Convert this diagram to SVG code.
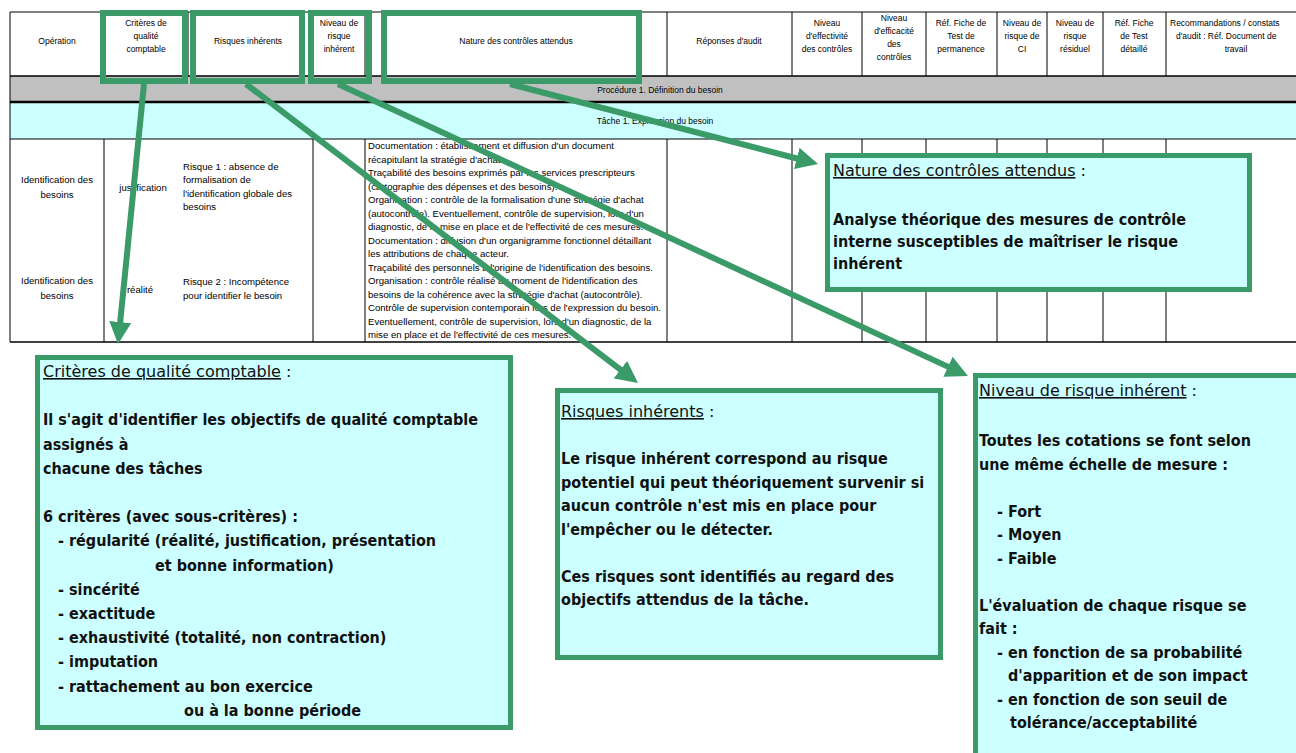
<svg xmlns="http://www.w3.org/2000/svg" width="1296" height="753" viewBox="0 0 1296 753">
<style>
.t{font-family:"Liberation Sans",Arial,sans-serif;font-size:8.5px;fill:#000}
.m{text-anchor:middle}
.b9{font-family:"Liberation Sans",Arial,sans-serif;font-size:9.6px;fill:#000}
.nc{font-family:"Liberation Sans",Arial,sans-serif;font-size:9.6px;fill:#000}
.cb{font-family:"DejaVu Sans Condensed","DejaVu Sans",sans-serif;font-size:16px;font-weight:bold;fill:#111}
.ct{font-family:"DejaVu Sans",sans-serif;font-size:16px;fill:#111}
.box{fill:#ccffff;stroke:#3a9a68;stroke-width:5}
.hb{fill:none;stroke:#3a9a68;stroke-width:6}
.ln{stroke:#000;stroke-width:1;fill:none}
.conn{stroke:#3a9a68;stroke-width:6;fill:none;marker-end:url(#ah)}
</style>
<defs>
<marker id="ah" markerUnits="userSpaceOnUse" markerWidth="22" markerHeight="22" refX="14" refY="11" orient="auto" viewBox="0 0 22 22">
<path d="M0,0 L22,11 L0,22 z" fill="#3a9a68"/>
</marker>
</defs>
<rect width="1296" height="753" fill="#fff"/>

<g id="table">
<rect x="10" y="76" width="1290" height="26" fill="#c0c0c0"/>
<rect x="10" y="102" width="1290" height="37" fill="#ccffff"/>
<g class="ln">
<line x1="10" y1="12" x2="1296" y2="12"/>
<line x1="10" y1="76" x2="1296" y2="76" stroke-width="1.5"/>
<line x1="10" y1="102" x2="1296" y2="102" stroke-width="2.5"/>
<line x1="10" y1="139" x2="1296" y2="139"/>
<line x1="10" y1="342" x2="1296" y2="342" stroke-width="1.5"/>
<line x1="10" y1="12" x2="10" y2="342"/>
<path d="M104,12V76 M188,12V76 M313,12V76 M365,12V76 M667,12V76 M792,12V76 M862,12V76 M926,12V76 M997,12V76 M1047,12V76 M1103,12V76 M1166,12V76"/>
<path d="M104,139V342 M313,139V342 M365,139V342 M667,139V342 M792,139V342 M862,139V342 M926,139V342 M997,139V342 M1047,139V342 M1103,139V342 M1166,139V342"/>
</g>
<g class="t m">
<text x="57" y="44">Opération</text>
<text x="146" y="26">Critères de</text><text x="146" y="39">qualité</text><text x="146" y="52">comptable</text>
<text x="248" y="44">Risques inhérents</text>
<text x="339" y="26">Niveau de</text><text x="339" y="39">risque</text><text x="339" y="52">inhérent</text>
<text x="516" y="44">Nature des contrôles attendus</text>
<text x="729" y="44">Réponses d'audit</text>
<text x="827" y="26">Niveau</text><text x="827" y="39">d'effectivité</text><text x="827" y="52">des contrôles</text>
<text x="894" y="21">Niveau</text><text x="894" y="34">d'efficacité</text><text x="894" y="47">des</text><text x="894" y="60">contrôles</text>
<text x="961" y="26">Réf. Fiche de</text><text x="961" y="39">Test de</text><text x="961" y="52">permanence</text>
<text x="1022" y="26">Niveau de</text><text x="1022" y="39">risque de</text><text x="1022" y="52">CI</text>
<text x="1075" y="26">Niveau de</text><text x="1075" y="39">risque</text><text x="1075" y="52">résiduel</text>
<text x="1134" y="26">Réf. Fiche</text><text x="1134" y="39">de Test</text><text x="1134" y="52">détaillé</text>
<text x="1236" y="52">travail</text>
</g>
<text class="t" x="1170" y="26">Recommandations / constats</text>
<text class="t" x="1176" y="39">d'audit : Réf. Document de</text>
<text class="t m" x="660" y="93">Procédure 1. Définition du besoin</text>
<text class="t m" x="655" y="124">Tâche 1. Expression du besoin</text>
<g class="b9">
<text class="m" x="57" y="183">Identification des</text><text class="m" x="57" y="198">besoins</text>
<text class="m" x="57" y="284">Identification des</text><text class="m" x="57" y="299">besoins</text>
<text class="m" x="143" y="191">justification</text>
<text class="m" x="140" y="293">réalité</text>
<text x="183" y="170">Risque 1 : absence de</text>
<text x="183" y="183">formalisation de</text>
<text x="183" y="197">l'identification globale des</text>
<text x="183" y="210">besoins</text>
<text x="183" y="285">Risque 2 : Incompétence</text>
<text x="183" y="299">pour identifier le besoin</text>
</g>
<g class="nc">
<text x="368" y="149">Documentation : établissement et diffusion d'un document</text>
<text x="368" y="162.5">récapitulant la stratégie d'achat</text>
<text x="368" y="176">Traçabilité des besoins exprimés par les services prescripteurs</text>
<text x="368" y="189.5">(cartographie des dépenses et des besoins).</text>
<text x="368" y="203">Organisation : contrôle de la formalisation d'une stratégie d'achat</text>
<text x="368" y="216.5">(autocontrôle). Eventuellement, contrôle de supervision, lors d'un</text>
<text x="368" y="230">diagnostic, de la mise en place et de l'effectivité de ces mesures.</text>
<text x="368" y="243.5">Documentation : diffusion d'un organigramme fonctionnel détaillant</text>
<text x="368" y="257">les attributions de chaque acteur.</text>
<text x="368" y="270.5">Traçabilité des personnels à l'origine de l'identification des besoins.</text>
<text x="368" y="284">Organisation : contrôle réalisé au moment de l'identification des</text>
<text x="368" y="297.5">besoins de la cohérence avec la stratégie d'achat (autocontrôle).</text>
<text x="368" y="311">Contrôle de supervision contemporain lors de l'expression du besoin.</text>
<text x="368" y="324.5">Eventuellement, contrôle de supervision, lors d'un diagnostic, de la</text>
<text x="368" y="338">mise en place et de l'effectivité de ces mesures.</text>
</g>
</g>

<g id="highlight-criteres"><rect class="hb" x="103" y="13" width="82" height="68"/></g>
<g id="highlight-risques"><rect class="hb" x="193" y="13" width="109" height="68"/></g>
<g id="highlight-niveau"><rect class="hb" x="311" y="13" width="58" height="68"/></g>
<g id="highlight-nature"><rect class="hb" x="384" y="13" width="255" height="68"/></g>

<g id="note-nature">
<rect class="box" x="827.5" y="155.5" width="422" height="134"/>
<text class="ct" x="833" y="176"><tspan text-decoration="underline">Nature des contrôles attendus</tspan> :</text>
<g class="cb">
<text x="833" y="225">Analyse théorique des mesures de contrôle</text>
<text x="833" y="247">interne susceptibles de maîtriser le risque</text>
<text x="833" y="269">inhérent</text>
</g>
</g>

<g id="note-criteres">
<rect class="box" x="37.5" y="357.5" width="473" height="370"/>
<text class="ct" x="43" y="377"><tspan text-decoration="underline">Critères de qualité comptable</tspan> :</text>
<g class="cb">
<text x="43" y="425.4">Il s'agit d'identifier les objectifs de qualité comptable</text>
<text x="43" y="449.6">assignés à</text>
<text x="43" y="473.8">chacune des tâches</text>
<text x="43" y="522.2">6 critères (avec sous-critères) :</text>
<text x="58" y="546.4">- régularité (réalité, justification, présentation</text>
<text x="155" y="570.6">et bonne information)</text>
<text x="58" y="594.8">- sincérité</text>
<text x="58" y="619">- exactitude</text>
<text x="58" y="643.2">- exhaustivité (totalité, non contraction)</text>
<text x="58" y="667.4">- imputation</text>
<text x="58" y="691.6">- rattachement au bon exercice</text>
<text x="184" y="715.8">ou à la bonne période</text>
</g>
</g>

<g id="note-risques">
<rect class="box" x="557.5" y="390.5" width="383" height="267"/>
<text class="ct" x="561" y="417"><tspan text-decoration="underline">Risques inhérents</tspan> :</text>
<g class="cb">
<text x="561" y="464">Le risque inhérent correspond au risque</text>
<text x="561" y="487.5">potentiel qui peut théoriquement survenir si</text>
<text x="561" y="511">aucun contrôle n'est mis en place pour</text>
<text x="561" y="534.5">l'empêcher ou le détecter.</text>
<text x="561" y="581.5">Ces risques sont identifiés au regard des</text>
<text x="561" y="605">objectifs attendus de la tâche.</text>
</g>
</g>

<g id="note-niveau">
<rect class="box" x="975.5" y="375.5" width="340" height="400"/>
<text class="ct" x="979" y="396"><tspan text-decoration="underline">Niveau de risque inhérent</tspan> :</text>
<g class="cb">
<text x="979" y="446">Toutes les cotations se font selon</text>
<text x="979" y="469.5">une même échelle de mesure :</text>
<text x="997" y="516.5">- Fort</text>
<text x="997" y="540">- Moyen</text>
<text x="997" y="563.5">- Faible</text>
<text x="979" y="610.5">L'évaluation de chaque risque se</text>
<text x="979" y="634">fait :</text>
<text x="997" y="657.5">- en fonction de sa probabilité</text>
<text x="1008" y="681">d'apparition et de son impact</text>
<text x="997" y="704.5">- en fonction de son seuil de</text>
<text x="1010" y="728">tolérance/acceptabilité</text>
</g>
</g>

<g id="connectors">
<line class="conn" x1="144" y1="84" x2="118.8" y2="336"/>
<line class="conn" x1="246" y1="84" x2="631.6" y2="378.1"/>
<line class="conn" x1="338" y1="84" x2="960.7" y2="372.6"/>
<line class="conn" x1="510" y1="84" x2="810.3" y2="162"/>
</g>
</svg>
